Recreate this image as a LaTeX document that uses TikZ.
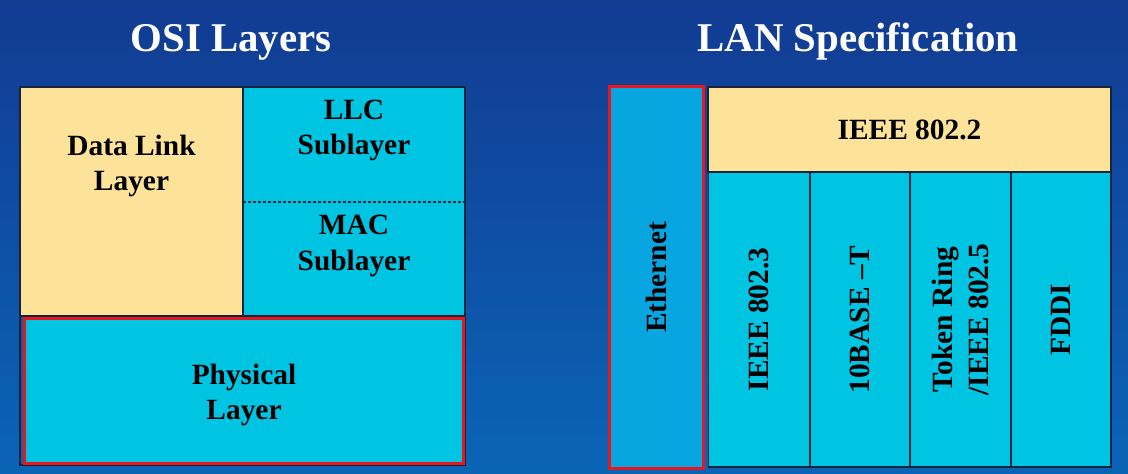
\documentclass[tikz,border=0pt]{standalone}
\usepackage{fontspec}
\setmainfont{Liberation Serif}
\definecolor{bgtop}{HTML}{123B92}
\definecolor{bgbot}{HTML}{0A64B6}
\definecolor{cyanbox}{HTML}{00C5E2}
\definecolor{sandbox}{HTML}{FDE39A}
\definecolor{ethbox}{HTML}{08A6E0}
\definecolor{framered}{HTML}{E8161E}
\definecolor{rulenavy}{HTML}{16243E}
\tikzset{
  box/.style={rectangle,inner sep=0pt,outer sep=0pt,draw=none},
  frame/.style={draw=rulenavy,line width=1.1bp},
  redframe/.style={draw=framered,line width=3bp},
  boxtext/.style={font=\fontsize{29.5}{36}\selectfont\bfseries,align=center,text=black,inner sep=0pt},
  title/.style={font=\fontsize{41}{48}\selectfont\bfseries,text=white,inner sep=0pt},
}
\begin{document}
\begin{tikzpicture}[x=1bp,y=-1bp,line join=miter]
%%
\useasboundingbox (0,0) rectangle (1128,474);
\fill [top color=bgtop,bottom color=bgbot] (0,0) rectangle (1128,474);
%% titles
\node (title_osi) at (231,52) [title,anchor=base] {OSI Layers};
\node (title_lan) at (858,52) [title,anchor=base] {LAN Specification};
%% OSI side
\node (dll) at (131.5,201.5) [box,fill=sandbox,frame,minimum width=223bp,minimum height=229bp] {};
\node (llc) at (354,144.5) [box,fill=cyanbox,minimum width=222bp,minimum height=115bp] {};
\node (mac) at (354,259) [box,fill=cyanbox,minimum width=222bp,minimum height=114bp] {};
\node (phy) at (244,391) [box,fill=cyanbox,minimum width=442bp,minimum height=148bp] {};
\draw [frame] (llc.north west) rectangle (mac.south east);
\draw [frame] (dll.north west) rectangle (phy.south east);
\draw [frame,dashed,dash pattern=on 3bp off 2bp] (llc.south west) -- (llc.south east);
\draw [redframe] ([shift={(1.5,1.5)}]phy.north west) rectangle ([shift={(-1.5,-1.5)}]phy.south east);
\node (dll_text) at (131.5,166) [boxtext] {Data Link\\Layer};
\node (llc_text) at (354,130.5) [boxtext] {LLC\\Sublayer};
\node (mac_text) at (354,246) [boxtext] {MAC\\Sublayer};
\node (phy_text) at (244,395) [boxtext] {Physical\\Layer};
%% LAN side
\node (eth) at (656,277.5) [box,fill=ethbox,redframe,minimum width=94bp,minimum height=381bp] {};
\node (eth_text) at (eth.center) [boxtext,rotate=90] {Ethernet};
\node (ieee2) at (909.5,129.5) [box,fill=sandbox,frame,minimum width=403bp,minimum height=85bp,boxtext] {IEEE 802.2};
\node (col_1) at (759,319.5) [box,fill=cyanbox,frame,minimum width=101bp,minimum height=295bp] {};
\node (col_2) at (860,319.5) [box,fill=cyanbox,frame,minimum width=100bp,minimum height=295bp] {};
\node (col_3) at (960.5,319.5) [box,fill=cyanbox,frame,minimum width=101bp,minimum height=295bp] {};
\node (col_4) at (1061,319.5) [box,fill=cyanbox,frame,minimum width=100bp,minimum height=295bp] {};
\node (col_1_text) at (col_1.center) [boxtext,rotate=90] {IEEE 802.3};
\node (col_2_text) at (col_2.center) [boxtext,rotate=90] {10BASE –T};
\node (col_3_text) at (col_3.center) [boxtext,rotate=90] {Token Ring\\/IEEE 802.5};
\node (col_4_text) at (col_4.center) [boxtext,rotate=90] {FDDI};
%
\end{tikzpicture}
\end{document}
